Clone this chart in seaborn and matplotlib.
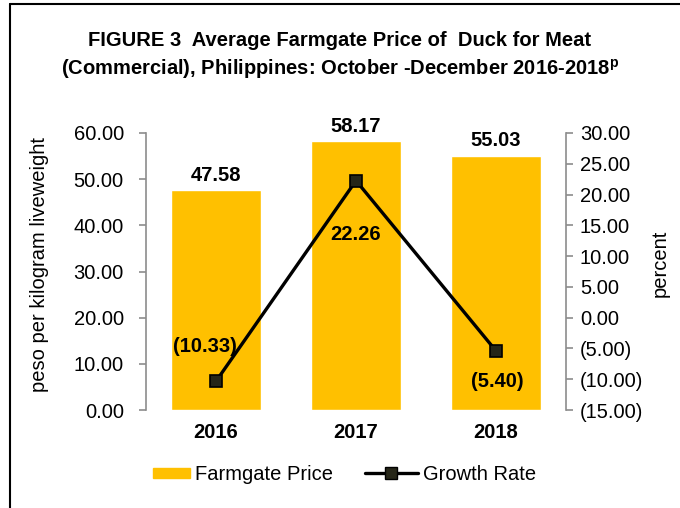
import matplotlib
matplotlib.use('Agg')
import matplotlib.pyplot as plt
import seaborn as sns
import pandas as pd
from matplotlib.lines import Line2D
from matplotlib.patches import Patch, Rectangle
from matplotlib.legend_handler import HandlerPatch

years = ['2016', '2017', '2018']
price = [47.58, 58.17, 55.03]
growth = [-10.33, 22.26, -5.40]
growth_labels = ['(10.33)', '22.26', '(5.40)']

sns.set_style('white')
plt.rcParams['font.family'] = ['Liberation Sans', 'DejaVu Sans']
plt.rcParams['mathtext.default'] = 'regular'
plt.rcParams['text.color'] = 'black'
plt.rcParams['axes.labelcolor'] = 'black'

BAR = '#FFC000'
AXC = '#8C8C8C'
FS = 14.5

fig = plt.figure(figsize=(6.8, 5.08), dpi=100)
ax = fig.add_axes([146 / 680, 1 - 410 / 508, 420 / 680, 277 / 508])

df = pd.DataFrame({'year': years, 'price': price, 'growth': growth})
sns.barplot(data=df, x='year', y='price', color=BAR, saturation=1, width=0.64, ax=ax)
ax.set_xlim(-0.5, 2.5)
ax.set_ylim(0, 60)
ax.set_yticks(range(0, 61, 10))
ax.set_yticklabels([f'{v:.2f}' for v in range(0, 61, 10)], fontsize=FS)
ax.set_xlabel('')
ax.set_ylabel('')
ax.tick_params(axis='x', length=0, pad=9, labelcolor='black')
for t in ax.get_xticklabels():
    t.set_fontweight('bold')
    t.set_fontsize(FS)
ax.tick_params(axis='y', direction='out', length=5, color=AXC, width=1.2, left=True,
               pad=11, labelcolor='black')
for s in ['top', 'right', 'bottom']:
    ax.spines[s].set_visible(False)
ax.spines['left'].set_color(AXC)
ax.spines['left'].set_linewidth(1.2)

for i, v in enumerate(price):
    ax.annotate(f'{v:.2f}', (i, v), xytext=(0, 4), textcoords='offset points',
                ha='center', va='bottom', fontsize=FS, fontweight='bold')

ax2 = ax.twinx()
x_pos = list(range(len(years)))
sns.lineplot(x=x_pos, y=growth, ax=ax2, color='black', linewidth=2.4,
             marker='s', markersize=9, markerfacecolor='#262618',
             markeredgecolor='black', markeredgewidth=1.2)
ax2.set_xlim(-0.5, 2.5)
ax2.set_ylim(-15, 30)
rt = list(range(-15, 31, 5))
ax2.set_yticks(rt)
ax2.set_yticklabels([f'({abs(v):.2f})' if v < 0 else f'{v:.2f}' for v in rt], fontsize=FS)
ax2.set_ylabel('')
ax2.tick_params(axis='y', direction='out', length=5, color=AXC, width=1.2, right=True,
                pad=5, labelcolor='black')
for s in ['top', 'left', 'bottom']:
    ax2.spines[s].set_visible(False)
ax2.spines['right'].set_color(AXC)
ax2.spines['right'].set_linewidth(1.2)

offsets = [(-8, 25), (0, -39), (1, -22)]
for i, (v, lab) in enumerate(zip(growth, growth_labels)):
    ax2.annotate(lab, (i, v), xytext=offsets[i], textcoords='offset points',
                 ha='center', va='center', fontsize=FS, fontweight='bold')

# axis titles
fig.text(40 / 680, 1 - 265 / 508, 'peso per kilogram liveweight', rotation=90,
         ha='center', va='center', fontsize=FS)
fig.text(660 / 680, 1 - 263 / 508, 'percent', rotation=90,
         ha='center', va='center', fontsize=FS)

fig.text(0.5, 1 - 56 / 508,
         'FIGURE 3  Average Farmgate Price of  Duck for Meat\n'
         '(Commercial), Philippines: October -December 2016-2018$^{p}$',
         ha='center', va='center', fontsize=FS, fontweight='bold', linespacing=1.38)


def short_rect(legend, orig_handle, xdescent, ydescent, width, height, fontsize):
    w, h = 26.6, 7.2
    return Rectangle((-xdescent + width - w, -ydescent + (height - h) / 2), w, h)


handles = [Patch(color=BAR),
           Line2D([], [], color='black', linewidth=2.4, marker='s', markersize=9,
                  markerfacecolor='#262618', markeredgecolor='black')]
fig.legend(handles, ['Farmgate Price', 'Growth Rate'], loc='center',
           bbox_to_anchor=(0.495, 1 - 475 / 508), ncol=2, frameon=False,
           fontsize=FS, handlelength=2.6, columnspacing=1.6, handletextpad=0.25,
           handler_map={Patch: HandlerPatch(patch_func=short_rect)})

# border of the chart area
fig.add_artist(Line2D([9.5 / 680, 9.5 / 680], [0, 1 - 4 / 508], color='black',
                      linewidth=1.5, transform=fig.transFigure))
fig.add_artist(Line2D([9.5 / 680, 1], [1 - 4 / 508, 1 - 4 / 508], color='black',
                      linewidth=1.5, transform=fig.transFigure))

fig.savefig('out.png', dpi=100)
